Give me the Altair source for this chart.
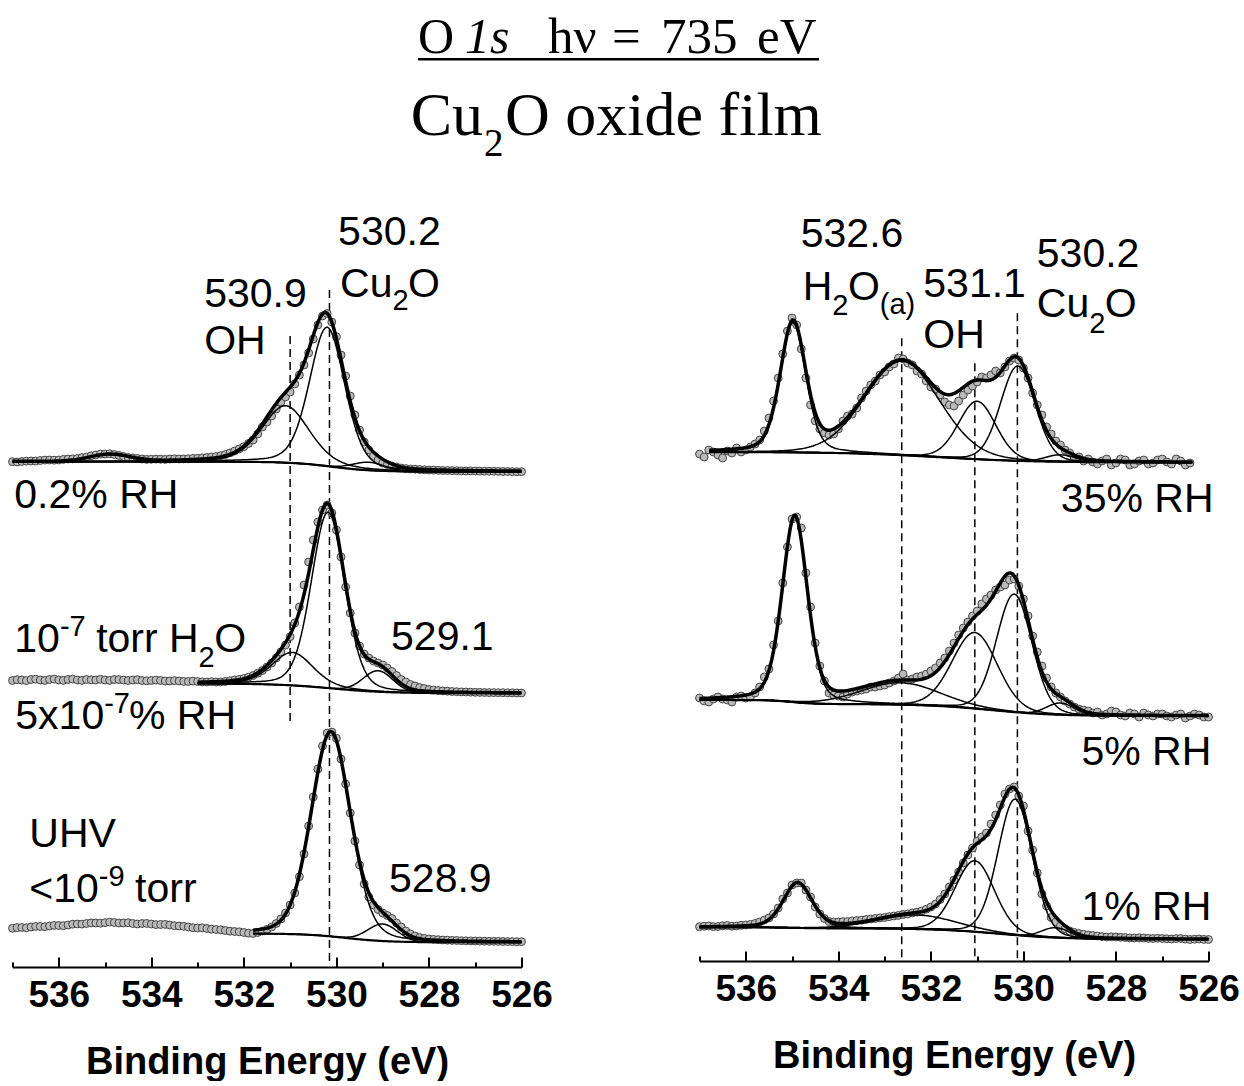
import altair as alt
import numpy as np
import pandas as pd

SANS = "Liberation Sans, Arial, Helvetica, sans-serif"
SERIF = "Liberation Serif, Times New Roman, Times, serif"
PAD_L = 5.5
HDR_SHIFT = 8.0

# ---------------- measured spectra (binding energy grid, 0.1 eV) ----------------
E_FULL = [round(537.0 - 0.1 * i, 1) for i in range(111)]   # 537.0 ... 526.0
E_RT = E_FULL[:107]                                         # 537.0 ... 526.4

# left panel (offset intensities)
LT_H = [505.3,
        505.0, 505.5, 505.9, 506.0, 506.0, 506.5, 506.9, 507.0, 506.8, 507.0,
        507.6, 508.0, 508.1, 508.5, 509.4, 510.0, 511.2, 512.0, 512.9, 513.0,
        513.2, 512.5, 511.6, 510.5, 509.5, 509.0, 508.6, 508.0, 507.6, 507.7,
        507.9, 507.8, 507.6, 508.0, 508.2, 508.0, 508.1, 508.3, 508.6, 508.7,
        509.0, 509.5, 510.1, 510.5, 511.3, 512.5, 514.1, 516.0, 518.1, 520.3,
        523.5, 527.0, 533.0, 540.0, 545.0, 551.0, 558.0, 565.0, 570.0, 575.0,
        583.0, 592.0, 602.0, 614.0, 628.0, 642.0, 651.0, 653.5, 645.0, 630.3,
        612.0, 591.0, 571.0, 552.0, 537.0, 525.0, 517.0, 511.0, 507.0, 504.0,
        502.4, 501.0, 500.0, 499.0, 498.4, 498.0, 497.8, 497.5, 497.2, 497.0,
        496.9, 496.7, 496.5, 496.5, 496.4, 496.3, 496.1, 496.0, 496.1, 496.0,
        495.9, 495.8, 495.8, 495.7, 495.6, 495.5, 495.5, 495.4, 495.3, 495.3]
LM_H = [286.5,
        287.3, 287.0, 286.4, 287.5, 287.8, 287.0, 286.6, 287.5, 287.9, 287.0,
        286.7, 287.5, 287.9, 287.0, 286.6, 287.5, 287.2, 287.0, 287.7, 287.0,
        286.6, 287.5, 287.4, 287.0, 286.5, 287.0, 287.3, 286.5, 286.2, 286.5,
        286.9, 286.5, 286.0, 286.0, 286.4, 286.0, 285.6, 285.5, 285.9, 285.5,
        285.1, 285.0, 285.3, 285.0, 285.0, 285.5, 286.2, 287.0, 287.6, 288.5,
        289.8, 291.5, 293.8, 296.5, 300.0, 304.0, 309.0, 315.0, 322.0, 330.3,
        344.0, 360.0, 382.0, 405.0, 427.0, 445.0, 457.0, 462.0, 454.0, 437.0,
        410.0, 380.0, 354.0, 334.0, 321.0, 313.0, 309.0, 306.0, 304.0, 302.0,
        299.0, 295.5, 291.5, 287.5, 285.0, 282.5, 281.0, 279.5, 278.5, 277.5,
        277.0, 276.5, 276.1, 275.8, 275.5, 275.3, 275.1, 275.0, 274.8, 274.7,
        274.6, 274.5, 274.4, 274.4, 274.3, 274.3, 274.2, 274.2, 274.1, 274.0]
LB_H = [38.7,
        39.4, 39.5, 39.2, 40.0, 40.6, 40.5, 40.3, 41.0, 41.6, 41.5,
        41.3, 42.0, 42.8, 43.0, 42.9, 43.5, 44.1, 44.0, 43.8, 44.3,
        44.9, 44.5, 44.0, 44.0, 44.3, 43.5, 43.0, 43.5, 43.6, 43.0,
        42.4, 42.5, 42.6, 42.0, 41.3, 41.0, 40.7, 40.0, 39.2, 39.0,
        39.1, 38.5, 37.8, 37.5, 37.2, 36.5, 35.8, 35.5, 35.2, 34.5,
        33.8, 33.5, 34.5, 36.0, 37.6, 40.0, 43.5, 48.0, 54.0, 62.0,
        74.0, 90.3, 113.0, 141.0, 170.0, 198.0, 221.0, 234.0, 235.0, 228.7,
        208.0, 183.0, 154.0, 126.0, 102.0, 83.0, 70.0, 62.0, 57.5, 54.0,
        51.5, 48.5, 44.0, 40.0, 36.0, 33.0, 31.0, 29.5, 28.6, 28.0,
        27.6, 27.3, 27.0, 26.8, 26.6, 26.5, 26.3, 26.2, 26.1, 26.0,
        25.9, 25.8, 25.7, 25.7, 25.6, 25.5, 25.4, 25.4, 25.3, 25.3]
# right panel
RT_H = [507,
        504, 511, 509, 506, 503, 510, 508, 513, 509, 511,
        514, 517, 521, 530, 543, 560, 583, 607, 630, 643,
        636, 612, 583, 556, 540, 532, 528, 526, 527, 532,
        540, 545, 547, 553, 563, 570, 576, 580, 586, 589,
        594, 597, 603, 602, 598, 596, 590, 587, 580, 574,
        572, 566, 559, 556, 555, 560, 566, 571, 575, 579,
        584, 583, 586, 590, 588, 594, 600, 603, 601, 593,
        583, 568, 556, 546, 534, 527, 520, 516, 511, 508,
        503, 504, 500, 502, 499, 497, 500, 502, 496, 498,
        502, 501, 496, 497, 500, 501, 497, 498, 501, 502,
        499, 497, 502, 500, 496, 498]
RM_H = [263,
        260, 259, 262, 264, 262, 261, 259, 264, 265, 263,
        264, 268, 274, 284, 292, 316, 340, 378, 414, 442,
        444, 433, 388, 354, 318, 295, 280, 268, 266, 265,
        264, 267, 269, 270, 271, 272, 274, 274, 275, 276,
        278, 280, 283, 287, 281, 282, 284, 285, 287, 290,
        293, 298, 303, 310, 318, 326, 333, 339, 345, 350,
        357, 362, 366, 371, 374, 376, 381, 382, 375, 362,
        345, 325, 309, 295, 283, 274, 268, 264, 260, 257,
        254, 252, 251, 250, 248, 249, 246, 247, 250, 249,
        246, 245, 248, 247, 244, 248, 246, 245, 247, 247,
        245, 244, 246, 247, 243, 245, 247, 246, 244, 244]
RB_H = [34.3,
        34.8, 35.0, 34.4, 34.5, 35.2, 35.5, 34.8, 35.0, 35.7, 36.0,
        36.6, 37.5, 39.0, 41.0, 43.0, 47.0, 53.0, 62.0, 68.0, 76.0,
        78.0, 78.0, 71.0, 64.0, 54.0, 47.0, 42.5, 39.5, 39.0, 39.0,
        39.4, 39.5, 40.1, 40.5, 40.8, 41.5, 42.0, 42.5, 43.1, 43.5,
        44.3, 45.0, 45.6, 46.5, 47.1, 48.0, 48.9, 50.0, 51.8, 54.0,
        57.0, 61.5, 67.0, 74.0, 81.0, 89.0, 98.0, 106.0, 113.0, 120.0,
        124.0, 128.0, 137.0, 146.0, 156.0, 167.0, 172.0, 174.0, 165.0, 155.0,
        130.0, 111.0, 88.0, 67.0, 55.0, 43.5, 39.0, 35.0, 32.2, 30.0,
        28.6, 27.5, 26.7, 26.0, 25.5, 25.0, 24.4, 24.0, 24.2, 24.0,
        23.7, 23.5, 23.1, 23.0, 23.2, 23.0, 22.6, 22.5, 22.7, 22.5,
        22.2, 22.0, 22.4, 22.5, 21.9, 21.5, 21.8, 22.0, 21.6, 21.5]

# ---------------- fit parameters ----------------
# components: (centre eV, height, FWHM eV, Lorentzian fraction)
LT_PEAKS = [(534.9, 7, 1.0, 0.0), (531.1, 57, 1.2, 0.3), (530.2, 139, 0.9, 0.25), (529.3, 8, 0.8, 0.0)]
LM_PEAKS = [(530.95, 33, 1.05, 0.3), (530.18, 176, 0.85, 0.2), (529.1, 21, 0.75, 0.0)]
LB_PEAKS = [(530.12, 205, 1.0, 0.2), (529.0, 17, 0.75, 0.0)]
RT_PEAKS = [(534.98, 130, 0.65, 0.3), (532.62, 94, 1.9, 0.1), (531.0, 58, 0.95, 0.1),
            (530.12, 95, 0.88, 0.1), (529.2, 7, 0.75, 0.0)]
RM_PEAKS = [(534.94, 186, 0.64, 0.3), (532.66, 22, 2.0, 0.1), (531.05, 76, 1.15, 0.1),
            (530.2, 118, 0.9, 0.1), (529.2, 11.7, 0.7, 0.0)]
RB_PEAKS = [(534.88, 45, 0.73, 0.3), (532.3, 14, 2.0, 0.1), (531.05, 71, 1.0, 0.1),
            (530.18, 136, 0.87, 0.1), (529.3, 10, 0.7, 0.0)]
# backgrounds: (low-BE level, [(step height, step centre eV, step width eV), ...])
LT_BG = (495.3, [(10.0, 530.1, 0.45)])
LM_BG = (273.7, [(9.8, 530.1, 0.6)])
LB_BG = (24.7, [(8.8, 529.8, 0.45)])
RT_BG = (498.5, [(10.5, 531.8, 1.0)])
RM_BG = (245.0, [(4.0, 535.0, 0.25), (12.0, 530.7, 0.7)])
RB_BG = (21.7, [(1.0, 535.0, 0.3), (11.0, 530.5, 0.7)])
# energy range over which the fit curves are drawn (high, low)
LT_FIT, LM_FIT, LB_FIT = (537.0, 526.0), (533.0, 526.0), (531.8, 526.0)
RT_FIT, RM_FIT, RB_FIT = (536.8, 526.35), (537.0, 526.0), (537.0, 526.0)

# reference lines (eV, top, bottom)
L_DASH_E, L_DASH_TOP, L_DASH_BOT = [531.0, 530.15], [631, 677], [243, 1]
R_DASH_E, R_DASH_TOP, R_DASH_BOT = [532.63, 531.05, 530.13], [622.7, 597.7, 647.7], [1, 1, 1]

# annotations: text, eV, height, font size
L_TXT = ["530.2", "Cu", "2", "O", "530.9", "OH", "0.2% RH",
         "10", "-7", "torr H", "2", "O", "529.1",
         "5x10", "-7", "% RH", "UHV", "<10", "-9", "torr", "528.9"]
L_TXT_E = [529.963, 529.92, 528.788, 528.451, 532.857, 532.857, 536.961,
           536.961, 535.976, 535.192, 532.978, 532.641, 528.819,
           536.94, 535.019, 534.482, 536.637, 536.637, 535.136, 534.352, 528.862]
L_TXT_H = [722, 670.3, 657, 670.3, 660.3, 613, 458.7,
           315.3, 331.3, 315.3, 300.3, 315.3, 317,
           237.6, 253.6, 237.6, 120.3, 65.3, 81.3, 65.3, 75.3]
L_TXT_FS = [41, 41, 29, 41, 41, 41, 41,
            41, 29, 41, 29, 41, 41,
            41, 29, 41, 41, 41, 29, 41, 41]
R_TXT = ["532.6", "H", "2", "O", "(a)", "531.1", "OH", "530.2", "Cu", "2", "O"]
R_TXT_E = [534.812, 534.769, 534.13, 533.793, 533.104, 532.164, 532.164, 529.711, 529.711, 528.579, 528.242]
R_TXT_H = [714.3, 661, 646, 661, 647, 664.3, 612.7, 694.3, 644.3, 628, 644.3]
R_TXT_FS = [41, 41, 29, 41, 29, 41, 41, 41, 41, 29, 41]
R_RH = ["35% RH", "5% RH", "1% RH"]
R_RH_E = [525.892, 525.94, 525.94]
R_RH_H = [449.3, 196, 41]

# header (page pixel positions)
HDR_T = ["O", "hν", "=", "735", "eV", "Cu", "2", "O oxide film"]
HDR_X = [419, 549, 613, 662, 758, 411.7, 485, 506]
HDR_Y = [52.7, 52.7, 52.7, 52.7, 52.7, 135, 156, 135]
HDR_FS = [50, 51, 51, 51, 51, 62, 39, 62]
HDR_IT_T, HDR_IT_X, HDR_IT_Y, HDR_IT_FS = ["1s"], [466], [52.7], [50]
HDR_LINE = (419, 820, 59.3)


def pv(x, c, a, w, eta):
    d = 4.0 * (x - c) ** 2 / w ** 2
    return a * ((1 - eta) * np.exp(-np.log(2) * d) + eta / (1 + d))


def background(x, bg):
    r, steps = bg
    y = np.full_like(x, r, dtype=float)
    for d, c, s in steps:
        y = y + d / (1 + np.exp(-(x - c) / s))
    return y


def frames(specs):
    pts, bgs, comps, envs = [], [], [], []
    for name, E, H, peaks, bg, rng in specs:
        pts.append(pd.DataFrame({"E": E, "h": H, "spec": name}))
        hi, lo = rng
        x = np.round(np.arange(lo, hi + 1e-6, 0.04), 3)
        b = background(x, bg)
        bgs.append(pd.DataFrame({"E": x, "h": b, "curve": name + "-bg"}))
        total = b.copy()
        for i, p in enumerate(peaks):
            yk = pv(x, *p)
            total = total + yk
            comps.append(pd.DataFrame({"E": x, "h": b + yk, "curve": f"{name}-c{i}"}))
        envs.append(pd.DataFrame({"E": x, "h": total, "curve": name + "-env"}))
    return [pd.concat(f, ignore_index=True) for f in (pts, bgs, comps, envs)]


def make_panel(specs, dash_df, txt_df, rtxt_df, height):
    pts, bgs, comps, envs = frames(specs)
    xs = alt.Scale(domain=[537, 526], nice=False, zero=False)
    ys = alt.Scale(domain=[0, height], nice=False, zero=False)
    bottom_axis = alt.Axis(orient="bottom", values=[536, 534, 532, 530, 528, 526], format="d",
                           domain=True, domainColor="black", domainWidth=2,
                           ticks=False, tickSize=0, grid=False,
                           labelFont=SANS, labelFontSize=37, labelFontWeight="bold",
                           labelColor="black", labelPadding=10, labelFlush=False, labelOverlap=False,
                           title="Binding Energy (eV)", titleFont=SANS, titleFontSize=38,
                           titleFontWeight="bold", titleColor="black", titlePadding=30)
    tick_axis = alt.Axis(orient="top", offset=-height, values=list(range(526, 538)),
                         domain=False, labels=False, ticks=True, tickColor="black", tickWidth=2,
                         tickSize={"condition": {"test": "datum.value % 2 === 0", "value": 10}, "value": 5},
                         grid=False, title=None)
    y_enc = alt.Y("h:Q", scale=ys, axis=None)
    dash = alt.Chart(dash_df).mark_rule(color="black", strokeWidth=1.5, strokeDash=[8, 5]).encode(
        x=alt.X("E:Q", scale=xs, axis=tick_axis), y=alt.Y("top:Q", scale=ys, axis=None), y2="bot:Q")
    circ = alt.Chart(pts).mark_circle(size=62, fill="#bababa", stroke="#454545", strokeWidth=1, opacity=1).encode(
        x=alt.X("E:Q", scale=xs, axis=bottom_axis), y=y_enc, detail="spec:N")
    bgl = alt.Chart(bgs).mark_line(color="black", strokeWidth=2.2).encode(
        x=alt.X("E:Q", scale=xs, axis=None), y=y_enc, detail="curve:N")
    cl = alt.Chart(comps).mark_line(color="black", strokeWidth=1.5).encode(
        x=alt.X("E:Q", scale=xs, axis=None), y=y_enc, detail="curve:N")
    el = alt.Chart(envs).mark_line(color="black", strokeWidth=3.5).encode(
        x=alt.X("E:Q", scale=xs, axis=None), y=y_enc, detail="curve:N")
    layers = [dash, circ, bgl, cl, el]
    layers.append(alt.Chart(txt_df).mark_text(align="left", baseline="alphabetic", font=SANS, color="black").encode(
        x=alt.X("E:Q", scale=xs, axis=None), y=y_enc, text="t:N", size=alt.Size("fs:Q", scale=None)))
    if rtxt_df is not None:
        layers.append(alt.Chart(rtxt_df).mark_text(align="right", baseline="alphabetic", font=SANS,
                                                   color="black", fontSize=41).encode(
            x=alt.X("E:Q", scale=xs, axis=None), y=y_enc, text="t:N"))
    return alt.layer(*layers).properties(width=509, height=height)


left = make_panel(
    [("LT", E_FULL, LT_H, LT_PEAKS, LT_BG, LT_FIT),
     ("LM", E_FULL, LM_H, LM_PEAKS, LM_BG, LM_FIT),
     ("LB", E_FULL, LB_H, LB_PEAKS, LB_BG, LB_FIT)],
    pd.DataFrame({"E": L_DASH_E, "top": L_DASH_TOP, "bot": L_DASH_BOT}),
    pd.DataFrame({"E": L_TXT_E, "h": L_TXT_H, "t": L_TXT, "fs": L_TXT_FS}),
    None, 767)

right = make_panel(
    [("RT", E_RT, RT_H, RT_PEAKS, RT_BG, RT_FIT),
     ("RM", E_FULL, RM_H, RM_PEAKS, RM_BG, RM_FIT),
     ("RB", E_FULL, RB_H, RB_PEAKS, RB_BG, RB_FIT)],
    pd.DataFrame({"E": R_DASH_E, "top": R_DASH_TOP, "bot": R_DASH_BOT}),
    pd.DataFrame({"E": R_TXT_E, "h": R_TXT_H, "t": R_TXT, "fs": R_TXT_FS}),
    pd.DataFrame({"E": R_RH_E, "h": R_RH_H, "t": R_RH}), 761)

# header
HW = 1225
hx = alt.Scale(domain=[PAD_L + HDR_SHIFT, HW + PAD_L + HDR_SHIFT], nice=False, zero=False)
hy = alt.Scale(domain=[200, 0], nice=False, zero=False)
hdr_norm = alt.Chart(pd.DataFrame({"x": HDR_X, "y": HDR_Y, "t": HDR_T, "fs": HDR_FS})).mark_text(
    align="left", baseline="alphabetic", font=SERIF, color="black").encode(
    x=alt.X("x:Q", scale=hx, axis=None), y=alt.Y("y:Q", scale=hy, axis=None),
    text="t:N", size=alt.Size("fs:Q", scale=None))
hdr_it = alt.Chart(pd.DataFrame({"x": HDR_IT_X, "y": HDR_IT_Y, "t": HDR_IT_T, "fs": HDR_IT_FS})).mark_text(
    align="left", baseline="alphabetic", font=SERIF, fontStyle="italic", color="black").encode(
    x=alt.X("x:Q", scale=hx, axis=None), y=alt.Y("y:Q", scale=hy, axis=None),
    text="t:N", size=alt.Size("fs:Q", scale=None))
hdr_line = alt.Chart(pd.DataFrame({"x1": [HDR_LINE[0]], "x2": [HDR_LINE[1]], "y": [HDR_LINE[2]]})).mark_rule(
    color="black", strokeWidth=2.5).encode(
    x=alt.X("x1:Q", scale=hx, axis=None), x2="x2:Q", y=alt.Y("y:Q", scale=hy, axis=None))
header = alt.layer(hdr_norm, hdr_it, hdr_line).properties(width=HW, height=200)

chart = alt.vconcat(
    header,
    alt.hconcat(left, right, spacing=178, bounds="flush"),
    spacing=0,
).properties(
    padding={"left": PAD_L, "top": 0, "right": 0, "bottom": 0}
).configure_view(strokeWidth=0)

chart.save("out.html", embed_options={"renderer": "svg", "actions": False})
